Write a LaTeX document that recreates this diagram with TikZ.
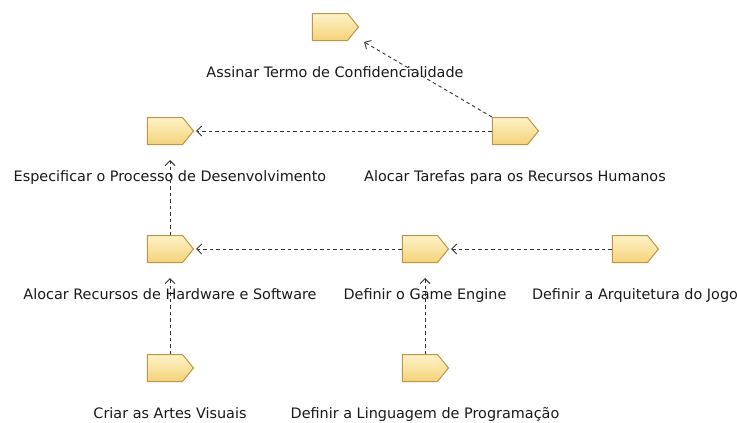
\documentclass[tikz,border=0pt]{standalone}
\usepackage{fontspec}
\setmainfont{DejaVu Sans}
\usepackage{tikz}
\usetikzlibrary{shapes.symbols,arrows.meta,positioning}
\definecolor{tasktop}{HTML}{FFF3C8}
\definecolor{taskbot}{HTML}{F4D27A}
\definecolor{taskline}{HTML}{BF9445}
\definecolor{depgray}{HTML}{333333}

\begin{document}
\begin{tikzpicture}[x=1pt,y=-1pt,
  task/.style={signal,signal to=east,signal pointer angle=102,draw=taskline,line width=1pt,top color=tasktop,bottom color=taskbot,minimum width=46pt,minimum height=27pt,inner sep=0pt},
  lbl/.style={inner sep=0pt,text height=10pt,text depth=3pt,text=black!90,font=\fontsize{14.4}{16}\selectfont,xshift=5pt},
  dep/.style={-{Straight Barb[length=5pt,width=10pt]},draw=depgray,line width=0.9pt,dash pattern=on 3.5pt off 3pt}
]
\useasboundingbox (0,0) rectangle (737,423);
\node[task] (ass) at (330,27) {};
\node[task] (esp) at (165,131) {};
\node[task] (tar) at (510,131) {};
\node[task] (rec) at (165,249) {};
\node[task] (eng) at (420,249) {};
\node[task] (arq) at (630,249) {};
\node[task] (art) at (165,368) {};
\node[task] (lin) at (420,368) {};
\node[lbl,below=26pt of ass] (assL) {Assinar Termo de Confidencialidade};
\node[lbl,below=26pt of esp] (espL) {Especificar o Processo de Desenvolvimento};
\node[lbl,below=26pt of tar] (tarL) {Alocar Tarefas para os Recursos Humanos};
\node[lbl,below=26pt of rec] (recL) {Alocar Recursos de Hardware e Software};
\node[lbl,below=26pt of eng] (engL) {Definir o Game Engine};
\node[lbl,below=26pt of arq] (arqL) {Definir a Arquitetura do Jogo};
\node[lbl,below=26pt of art] (artL) {Criar as Artes Visuais};
\node[lbl,below=26pt of lin] (linL) {Definir a Linguagem de Programação};
\draw[dep] (tar.north west) -- ([shift={(5pt,-15pt)}]ass.east);
\draw[dep,shorten >=2pt] (tar) -- (esp);
\draw[dep] ([xshift=5pt]rec.north) -- ([shift={(5pt,-15pt)}]esp.south);
\draw[dep,shorten >=2pt] (eng) -- (rec);
\draw[dep,shorten >=2pt] (arq) -- (eng);
\draw[dep] ([xshift=5pt]art.north) -- ([shift={(5pt,-15pt)}]rec.south);
\draw[dep] ([xshift=5pt]lin.north) -- ([shift={(5pt,-15pt)}]eng.south);
\end{tikzpicture}
\end{document}
